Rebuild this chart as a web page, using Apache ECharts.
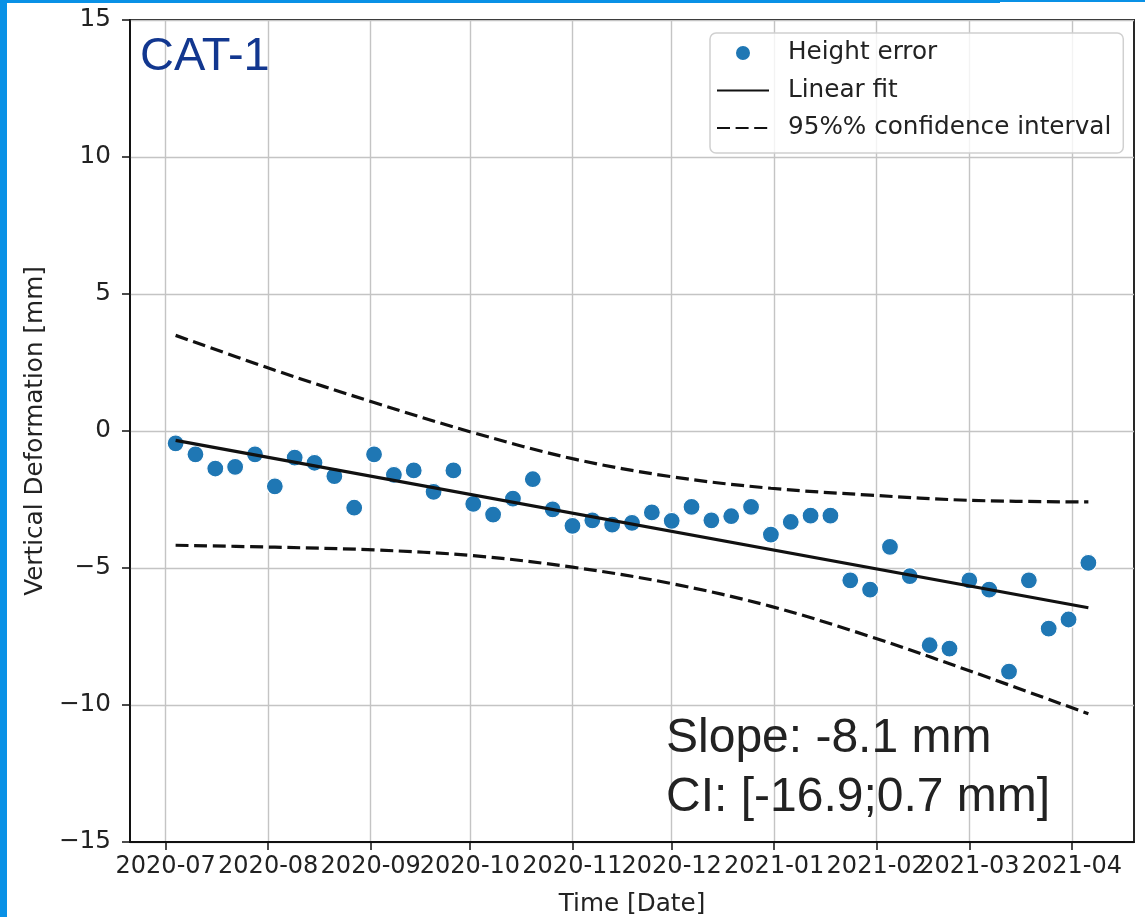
<!DOCTYPE html>
<html>
<head>
<meta charset="utf-8">
<script src="https://cdn.jsdelivr.net/npm/echarts@6/dist/echarts.min.js"></script>
<style>
html,body{margin:0;padding:0;background:#fff;}
#c{width:1145px;height:917px;}
</style>
</head>
<body>
<div id="c"></div>
<script>
// ---- data ----
const dates = ['2020-07-04','2020-07-10','2020-07-16','2020-07-22','2020-07-28',
  '2020-08-03','2020-08-09','2020-08-15','2020-08-21','2020-08-27',
  '2020-09-02','2020-09-08','2020-09-14','2020-09-20','2020-09-26',
  '2020-10-02','2020-10-08','2020-10-14','2020-10-20','2020-10-26',
  '2020-11-01','2020-11-07','2020-11-13','2020-11-19','2020-11-25',
  '2020-12-01','2020-12-07','2020-12-13','2020-12-19','2020-12-25','2020-12-31',
  '2021-01-06','2021-01-12','2021-01-18','2021-01-24','2021-01-30',
  '2021-02-05','2021-02-11','2021-02-17','2021-02-23',
  '2021-03-01','2021-03-07','2021-03-13','2021-03-19','2021-03-25','2021-03-31',
  '2021-04-06'];
const heightError = [-0.45,-0.85,-1.37,-1.31,-0.85,
  -2.02,-0.97,-1.16,-1.65,-2.80,
  -0.85,-1.60,-1.44,-2.22,-1.44,
  -2.66,-3.05,-2.47,-1.76,-2.86,
  -3.46,-3.26,-3.42,-3.35,-2.97,
  -3.28,-2.77,-3.26,-3.11,-2.77,-3.78,
  -3.32,-3.09,-3.09,-5.45,-5.79,
  -4.23,-5.30,-7.82,-7.94,
  -5.45,-5.79,-8.78,-5.45,-7.21,-6.88,
  -4.81];
const fitDates = ['2020-07-04','2021-04-06'];
const fitValues = [-0.34,-6.45];
const ciDates = ['2020-07-04','2020-08-03','2020-09-02','2020-10-02','2020-11-01',
  '2020-12-01','2020-12-31','2021-01-30','2021-03-01','2021-04-06'];
const ciUpper = [3.49,2.22,1.04,-0.06,-1.01,-1.67,-2.09,-2.34,-2.53,-2.59];
const ciLower = [-4.17,-4.24,-4.34,-4.55,-4.97,-5.57,-6.40,-7.50,-8.75,-10.32];
const monthTicks = ['2020-07-01','2020-08-01','2020-09-01','2020-10-01','2020-11-01',
  '2020-12-01','2021-01-01','2021-02-01','2021-03-01','2021-04-01'];
const xRange = ['2020-06-20 05','2021-04-19 19'];
const yTicks = [-15,-10,-5,0,5,10,15];
const annotation = ['Slope: -8.1 mm','CI: [-16.9;0.7 mm]'];

// ---- helpers ----
function toTs(s){
  const [d,h] = s.split(' ');
  const [y,m,dd] = d.split('-').map(Number);
  return new Date(y, m-1, dd, h ? Number(h) : 0).getTime();
}
function pairs(xs, ys){ return xs.map((d,i)=>[toTs(d), ys[i]]); }
function fmtMonth(v){
  const d = new Date(v);
  const m = d.getMonth()+1;
  return d.getFullYear() + '-' + (m<10?'0':'') + m;
}

const chart = echarts.init(document.getElementById('c'), null, {renderer:'canvas'});
const AX = 'DejaVu Sans';
const FS = 24.7;
const tickTs = monthTicks.map(toTs);

const option = {
  animation:false,
  backgroundColor:'#fff',
  grid:{left:130,right:11,top:20,bottom:75,outerBoundsMode:'none',containLabel:false,
    show:true,borderColor:'#111',borderWidth:1.8,backgroundColor:'transparent'},
  xAxis:{
    type:'value',
    min:toTs(xRange[0]), max:toTs(xRange[1]),
    name:'Time [Date]', nameLocation:'middle', nameGap:50,
    nameTextStyle:{fontFamily:AX,fontSize:FS,color:'#222'},
    axisLine:{show:true,onZero:false,lineStyle:{color:'#111',width:1.8}},
    axisTick:{show:true,length:8,lineStyle:{color:'#111',width:1.5},customValues:tickTs},
    axisLabel:{customValues:tickTs,margin:13,fontFamily:AX,fontSize:24,color:'#222',hideOverlap:false,
      formatter:fmtMonth},
    splitLine:{show:true,lineStyle:{color:'#c4c4c4',width:1.4}}
  },
  yAxis:{
    type:'value', min:yTicks[0], max:yTicks[yTicks.length-1], interval:5,
    name:'Vertical Deformation [mm]', nameLocation:'middle', nameGap:80, nameRotate:90,
    nameTextStyle:{fontFamily:AX,fontSize:FS,color:'#222'},
    axisLine:{show:true,onZero:false,lineStyle:{color:'#111',width:1.8}},
    axisTick:{show:true,length:8,lineStyle:{color:'#111',width:1.5}},
    axisLabel:{margin:19,fontFamily:AX,fontSize:FS,color:'#222',showMinLabel:true,showMaxLabel:true,
      formatter:(v)=> v<0 ? '\u2212'+Math.abs(v) : String(v)},
    splitLine:{show:true,lineStyle:{color:'#c4c4c4',width:1.4}}
  },
  legend:{
    orient:'vertical', left:710, top:33,
    padding:[6,12,11,6], itemGap:9.5, itemWidth:52, itemHeight:16,
    backgroundColor:'rgba(255,255,255,0.8)', borderColor:'#d0d0d0', borderWidth:1.5, borderRadius:6,
    textStyle:{fontFamily:AX,fontSize:FS,color:'#222',lineHeight:28,padding:[0,0,0,14]},
    data:[
      {name:'Height error'},
      {name:'Linear fit', itemStyle:{opacity:0}},
      {name:'95%% confidence interval', itemStyle:{opacity:0}}
    ]
  },
  series:[
    {name:'95%% confidence interval', type:'line', data:pairs(ciDates,ciUpper), smooth:0.35,
      symbol:'none', itemStyle:{color:'#111'}, lineStyle:{color:'#111',width:3.2,type:[13,5.6]}, z:3},
    {name:'95%% confidence interval', type:'line', data:pairs(ciDates,ciLower), smooth:0.35,
      symbol:'none', itemStyle:{color:'#111'}, lineStyle:{color:'#111',width:3.2,type:[13,5.6]}, z:3},
    {name:'Height error', type:'scatter', data:pairs(dates,heightError), symbolSize:17,
      itemStyle:{color:'#1f77b4',borderColor:'#fff',borderWidth:1.2,opacity:1}, z:4},
    {name:'Linear fit', type:'line', data:pairs(fitDates,fitValues), symbol:'none',
      itemStyle:{color:'#111'}, lineStyle:{color:'#111',width:3.2}, z:5}
  ],
  graphic:[
    {type:'rect', shape:{x:0,y:0,width:7,height:917}, style:{fill:'#0991e6'}, z:10},
    {type:'rect', shape:{x:0,y:0,width:1000,height:3}, style:{fill:'#0991e6'}, z:10},
    {type:'rect', shape:{x:1000,y:0,width:145,height:2}, style:{fill:'#0991e6'}, z:10},
    {type:'text', x:140, y:57, style:{text:'CAT-1', font:'47px "Liberation Sans"', fill:'#12378f', verticalAlign:'middle'}, z:10},
    {type:'text', x:666, y:739, style:{text:annotation[0], font:'48px "Liberation Sans"', fill:'#222', verticalAlign:'middle'}, z:10},
    {type:'text', x:666, y:798, style:{text:annotation[1], font:'48px "Liberation Sans"', fill:'#222', verticalAlign:'middle'}, z:10}
  ]
};
chart.setOption(option);
</script>
</body>
</html>
